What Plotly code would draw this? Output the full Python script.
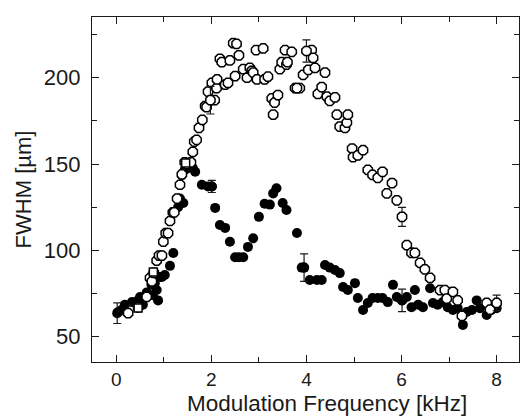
import plotly.graph_objects as go

# Filled circles series
filled_x = [0.04, 0.11, 0.18, 0.33, 0.46, 0.50, 0.56, 0.64, 0.74, 0.77, 0.81, 0.85, 0.88, 0.92, 0.96,
            1.02, 1.13, 1.20, 1.30, 1.34, 1.41, 1.38, 1.44, 1.52, 1.61, 1.66, 1.80, 1.93, 2.01,
            2.08, 2.18, 2.29, 2.39, 2.50, 2.58, 2.67, 2.77, 2.88, 3.00, 3.12, 3.23, 3.30, 3.37,
            3.50, 3.58, 3.80, 3.90, 3.95, 4.07, 4.22, 4.32, 4.39, 4.49, 4.60, 4.70, 4.77, 4.87,
            5.02, 5.08, 5.19, 5.29, 5.39, 5.50, 5.60, 5.71, 5.82, 5.90, 6.01, 6.11, 6.21, 6.28,
            6.35, 6.45, 6.60, 6.66, 6.76, 6.87, 6.97, 7.08, 7.18, 7.29, 7.37, 7.48, 7.58, 7.65,
            7.79, 7.89, 8.00]
filled_y = [64.3, 65.4, 68.5, 70.0, 71.0, 73.0, 68.5, 75.5, 80.0, 74.0, 81.0, 77.0, 71.0, 84.6, 84.6,
            85.7, 91.0, 98.5, 125.0, 130.0, 127.4, 143.6, 146.6, 147.7, 147.7, 145.5, 138.0, 137.0, 137.0,
            124.6, 114.7, 113.0, 105.0, 96.0, 96.0, 96.0, 102.0, 107.0, 119.4, 127.0, 126.5, 133.0, 136.0,
            127.4, 123.4, 110.0, 90.0, 90.0, 82.8, 82.8, 82.8, 91.5, 90.0, 88.6, 86.8, 78.8, 77.0,
            81.0, 72.4, 65.4, 69.5, 72.4, 72.4, 72.4, 70.0, 80.0, 73.0, 71.0, 73.0, 67.0, 77.0,
            68.5, 67.0, 78.0, 69.5, 68.5, 70.0, 67.0, 65.4, 66.5, 56.8, 64.3, 65.4, 71.0, 66.5,
            62.5, 65.4, 66.5]

# Open circles series
open_x = [0.25, 0.46, 0.64, 0.71, 0.75, 0.79, 0.85, 0.90, 0.96, 0.99, 1.04, 1.09, 1.13, 1.19, 1.22,
          1.28, 1.34, 1.38, 1.44, 1.49, 1.57, 1.61, 1.64, 1.69, 1.74, 1.81, 1.87, 1.90, 1.93, 2.01,
          2.07, 2.11, 2.12, 2.18, 2.22, 2.29, 2.35, 2.39, 2.46, 2.53, 2.50, 2.58, 2.67, 2.75, 2.81,
          2.85, 2.88, 2.94, 2.96, 3.09, 3.12, 3.19, 3.27, 3.30, 3.33, 3.40, 3.44, 3.48, 3.55, 3.58,
          3.60, 3.69, 3.76, 3.86, 3.93, 4.04, 4.11, 4.14, 4.18, 4.24, 4.32, 4.39, 4.43, 4.49, 4.60,
          4.64, 4.70, 4.81, 4.85, 4.87, 4.96, 4.98, 5.08, 5.19, 5.29, 5.39, 5.50, 5.60, 5.69, 5.80,
          5.90, 6.11, 6.21, 6.28, 6.39, 6.49, 6.60, 6.81, 6.91, 6.95, 7.08, 7.18, 7.27, 7.79, 7.86]
open_y = [63.6, 67.0, 73.0, 84.0, 82.0, 87.0, 94.0, 97.0, 97.0, 105.0, 110.0, 110.0, 117.0, 122.0, 122.0,
          130.0, 138.0, 144.0, 151.0, 150.0, 151.0, 157.0, 163.0, 164.0, 171.0, 175.6, 183.6, 183.0, 192.0, 197.0,
          187.0, 194.0, 199.0, 211.0, 209.0, 196.0, 197.0, 210.0, 220.0, 219.6, 201.0, 213.0, 205.0, 200.0, 205.7,
          204.0, 203.0, 216.0, 199.0, 217.0, 199.0, 200.6, 188.0, 178.6, 185.6, 190.0, 205.0, 209.0, 216.0, 207.6,
          209.0, 215.0, 194.0, 194.0, 201.7, 204.6, 216.0, 211.5, 205.7, 190.6, 194.6, 203.0, 189.0, 186.6, 188.6,
          178.6, 171.7, 171.0, 174.0, 178.6, 159.0, 154.0, 155.0, 158.0, 146.6, 143.7, 142.0, 145.5, 133.0, 139.0,
          129.0, 103.0, 98.5, 98.5, 92.7, 89.0, 84.0, 77.0, 77.0, 72.0, 76.0, 71.0, 62.0, 69.5, 65.6]

# Open squares series
square_x = [0.46, 0.78, 1.46]
square_y = [66.6, 87.5, 150.6]

# Points carrying error bars
err_filled_x = [0.02, 2.01, 3.95, 6.01]
err_filled_y = [63.6, 137.0, 90.0, 71.0]
err_filled_e = [6.0, 3.5, 8.0, 6.5]

err_open_x = [1.98, 3.80, 4.00, 6.01, 8.00]
err_open_y = [187.0, 194.0, 215.5, 119.4, 69.5]
err_open_e = [8.0, 2.5, 6.5, 5.5, 4.5]

x_ticks = [0, 2, 4, 6, 8]
y_ticks = [50, 100, 150, 200]
x_title = "Modulation Frequency [kHz]"
y_title = "FWHM [µm]"

INK = "#1a1a1a"
MS = 10

fig = go.Figure()
fig.add_trace(go.Scatter(x=filled_x, y=filled_y, mode="markers",
                         marker=dict(symbol="circle", size=MS, color="black", line=dict(width=0))))
fig.add_trace(go.Scatter(x=err_filled_x, y=err_filled_y, mode="markers",
                         marker=dict(symbol="circle", size=MS, color="black", line=dict(width=0)),
                         error_y=dict(type="data", array=err_filled_e, color=INK, thickness=1.2, width=4)))
fig.add_trace(go.Scatter(x=open_x, y=open_y, mode="markers",
                         marker=dict(symbol="octagon", size=MS, color="white", line=dict(width=1.5, color="black"))))
fig.add_trace(go.Scatter(x=square_x, y=square_y, mode="markers",
                         marker=dict(symbol="square", size=8, color="white", line=dict(width=1.5, color="black"))))
fig.add_trace(go.Scatter(x=err_open_x, y=err_open_y, mode="markers",
                         marker=dict(symbol="octagon", size=MS, color="white", line=dict(width=1.5, color="black")),
                         error_y=dict(type="data", array=err_open_e, color=INK, thickness=1.2, width=4)))

FAM = "Liberation Sans, Arial, sans-serif"
xtick_font = dict(family=FAM, size=19, color=INK)
ytick_font = dict(family=FAM, size=22, color=INK)
title_font = dict(family=FAM, size=22, color=INK)
xtitle_font = dict(family=FAM, size=22.5, color=INK)
fig.update_layout(
    width=520, height=419,
    margin=dict(l=92, r=1, t=17, b=57),
    paper_bgcolor="white", plot_bgcolor="white",
    showlegend=False,
    font=ytick_font,
    xaxis=dict(range=[-0.51, 8.47], tickvals=x_ticks, ticktext=[str(v) for v in x_ticks],
               ticks="inside", ticklen=7, tickwidth=1.2, tickcolor=INK, tickfont=xtick_font,
               minor=dict(dtick=1, tick0=0, ticks="inside", ticklen=5, tickcolor=INK, tickwidth=1.2),
               showline=True, linecolor=INK, linewidth=1.3, mirror="allticks",
               showgrid=False, zeroline=False, ticklabelstandoff=0),
    yaxis=dict(range=[35.3, 235.2], tickvals=y_ticks, ticktext=[str(v) for v in y_ticks],
               ticks="inside", ticklen=7, tickwidth=1.2, tickcolor=INK, tickfont=ytick_font,
               minor=dict(dtick=25, tick0=0, ticks="inside", ticklen=5, tickcolor=INK, tickwidth=1.2),
               showline=True, linecolor=INK, linewidth=1.3, mirror="allticks",
               showgrid=False, zeroline=False, ticklabelstandoff=6,
               title=dict(text=y_title, font=title_font, standoff=6)),
    annotations=[dict(text=x_title, xref="paper", yref="paper", x=0.55, y=-0.12,
                      xanchor="center", yanchor="middle", showarrow=False, font=xtitle_font)],
)

fig.write_html("out.html")
